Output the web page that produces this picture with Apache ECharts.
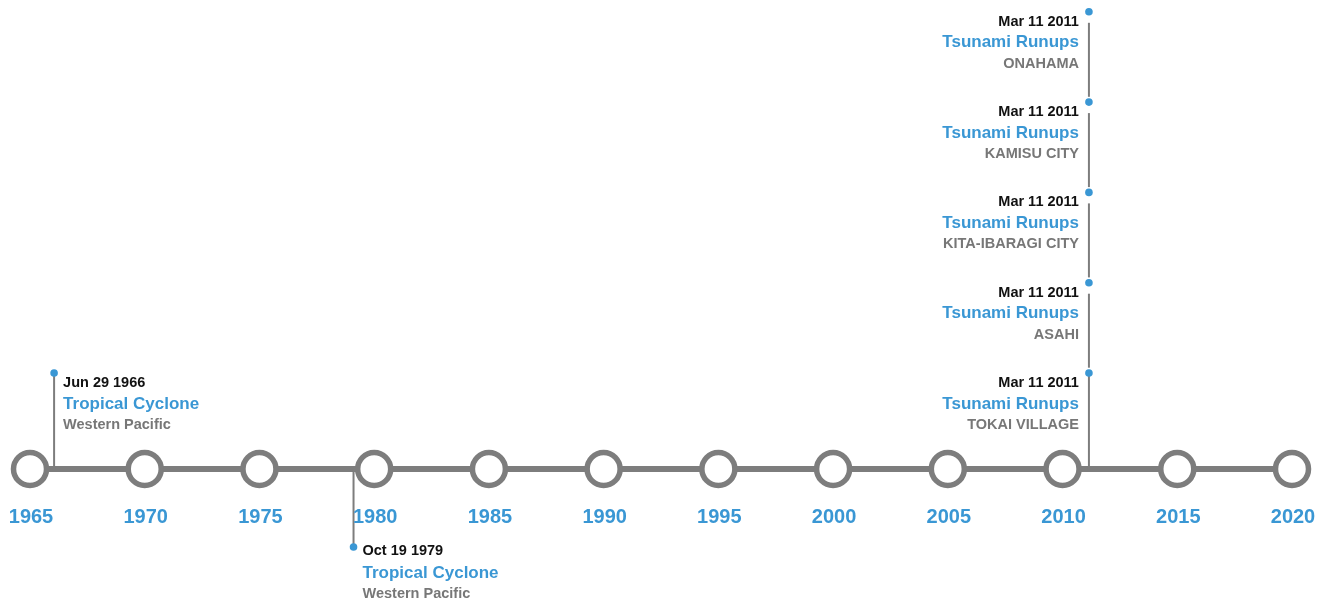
<!DOCTYPE html>
<html>
<head>
<meta charset="utf-8">
<title>Timeline</title>
<script src="https://cdn.jsdelivr.net/npm/echarts@6/dist/echarts.min.js"></script>
<style>
    html, body { margin: 0; padding: 0; background: #fff; }
    #timeline-container { width: 1327px; height: 603px; }
</style>
</head>
<body>
<div id="timeline-container"></div>
<script>
var tickYears = [1965, 1970, 1975, 1980, 1985, 1990, 1995, 2000, 2005, 2010, 2015, 2020];

// position on the axis (in years)
var eventPos = [1966.05, 1979.1, 2011.15, 2011.15, 2011.15, 2011.15, 2011.15];
var eventDates = ['Jun 29 1966', 'Oct 19 1979', 'Mar 11 2011', 'Mar 11 2011', 'Mar 11 2011', 'Mar 11 2011', 'Mar 11 2011'];
var eventTypes = ['Tropical Cyclone', 'Tropical Cyclone', 'Tsunami Runups', 'Tsunami Runups', 'Tsunami Runups', 'Tsunami Runups', 'Tsunami Runups'];
var eventPlaces = ['Western Pacific', 'Western Pacific', 'TOKAI VILLAGE', 'ASAHI', 'KITA-IBARAGI CITY', 'KAMISU CITY', 'ONAHAMA'];

var BLUE = '#3a97d4';
var GRAY = '#7d7d7d';
var FONT = '"Liberation Sans", Arial, Helvetica, sans-serif';

var myChart;
window.onload = function () {
    myChart = echarts.init(document.getElementById('timeline-container'));
    initChart();
};

// same date -> stacked, each new date flips side (above / below)
function layoutEvents() {
    var rows = [];
    var groupIdx = -1, lastDate = null, stack = 0;
    for (var i = 0; i < eventPos.length; i++) {
        if (eventDates[i] !== lastDate) {
            groupIdx++;
            stack = 0;
            lastDate = eventDates[i];
        } else {
            stack++;
        }
        rows.push([eventPos[i], 0, groupIdx % 2 === 0 ? 1 : -1, stack, i]);
    }
    return rows;
}

function renderEvent(params, api) {
    var x = api.value(0);
    var side = api.value(2);
    var stack = api.value(3);
    var idx = api.value(4);
    var p = api.coord([x, 0]);
    var w = api.getWidth();
    var px = p[0], y0 = p[1];
    var dotY, stemFrom, stemTo, offs;
    if (side > 0) {
        dotY = y0 - 96 - stack * 90.3;
        if (stack === 0) {
            stemFrom = dotY; stemTo = y0;
        } else {
            stemFrom = dotY + 11; stemTo = dotY + 85;
        }
        offs = [10, 31, 52];
    } else {
        dotY = y0 + 78;
        stemFrom = y0; stemTo = dotY;
        offs = [4, 26, 47];
    }
    var right = px > w * 0.7;
    var tx = right ? px - 10 : px + 9;
    var align = right ? 'right' : 'left';
    return {
        type: 'group',
        children: [
            {
                type: 'line',
                shape: { x1: px, y1: stemFrom, x2: px, y2: stemTo },
                style: { stroke: GRAY, lineWidth: 2 }
            },
            {
                type: 'circle',
                shape: { cx: px, cy: dotY, r: 3.8 },
                style: { fill: BLUE }
            },
            {
                type: 'text',
                style: {
                    x: tx, y: dotY + offs[0], text: eventDates[idx],
                    fill: '#111', font: 'bold 14.5px ' + FONT,
                    align: align, verticalAlign: 'middle'
                }
            },
            {
                type: 'text',
                style: {
                    x: tx, y: dotY + offs[1], text: eventTypes[idx],
                    fill: BLUE, font: 'bold 17px ' + FONT,
                    align: align, verticalAlign: 'middle'
                }
            },
            {
                type: 'text',
                style: {
                    x: tx, y: dotY + offs[2], text: eventPlaces[idx],
                    fill: '#777', font: 'bold 14.5px ' + FONT,
                    align: align, verticalAlign: 'middle'
                }
            }
        ]
    };
}

function initChart() {
    var ticks = tickYears.map(function (y) { return [y, 0]; });

    var option = {
        animation: false,
        backgroundColor: '#fff',
        grid: { left: 30, right: 35, top: 0, bottom: 0 },
        xAxis: {
            type: 'value', min: 1965, max: 2020, show: false
        },
        yAxis: {
            // pixel-like units, axis line sits at 0
            type: 'value', min: -134, max: 469, show: false
        },
        series: [
            {
                type: 'line',
                data: [[tickYears[0], 0], [tickYears[tickYears.length - 1], 0]],
                symbol: 'none',
                lineStyle: { color: GRAY, width: 6 },
                z: 1
            },
            {
                type: 'custom',
                data: layoutEvents(),
                renderItem: renderEvent,
                z: 2
            },
            {
                type: 'scatter',
                data: ticks,
                symbol: 'circle',
                symbolSize: 33,
                itemStyle: {
                    color: '#fff',
                    borderColor: GRAY,
                    borderWidth: 5.5,
                    opacity: 1
                },
                label: {
                    show: true,
                    position: 'inside',
                    offset: [1, 48],
                    formatter: function (p) { return String(p.value[0]); },
                    color: BLUE,
                    fontSize: 20,
                    fontWeight: 'bold',
                    fontFamily: FONT
                },
                emphasis: { disabled: true },
                z: 3
            }
        ]
    };
    myChart.setOption(option);
}
</script>
</body>
</html>
